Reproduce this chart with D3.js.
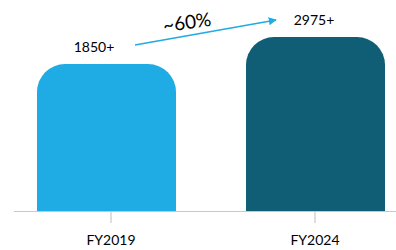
<!DOCTYPE html>
<html>
<head>
<meta charset="utf-8">
<script src="https://d3js.org/d3.v7.min.js"></script>
<style>
  body { margin:0; background:white; }
  .lbl { font-family: Lato, "Open Sans", sans-serif; font-size:14px; fill:#000; }
  .growth { font-family: Lato, "Open Sans", sans-serif; font-size:19px; fill:#000; }
</style>
</head>
<body>
<script>
var years = ["FY2019", "FY2024"];
var counts = [1850, 2975];
var labels = ["1850+", "2975+"];
var barColors = ["#1fabe3", "#0f5e75"];
var growthLabel = "~60%";

var width = 396, height = 250;
var svg = d3.select("body").append("svg")
  .attr("width", width).attr("height", height);

var x = d3.scaleBand().domain(years).range([37, 385]).paddingInner(0.335).paddingOuter(0);
// bars in the original are not drawn from zero
var y = d3.scaleLinear().domain([-4275, 2975]).range([211, 37]);

var r = 28;
function barPath(d, i) {
  var x0 = x(years[i]), w = x.bandwidth(), y0 = y(d), y1 = y(-4275);
  return "M" + x0 + "," + y1 + "V" + (y0 + r) +
    "A" + r + "," + r + " 0 0 1 " + (x0 + r) + "," + y0 +
    "H" + (x0 + w - r) +
    "A" + r + "," + r + " 0 0 1 " + (x0 + w) + "," + (y0 + r) +
    "V" + y1 + "Z";
}

svg.selectAll(".bar").data(counts).enter().append("path")
  .attr("class", "bar")
  .attr("d", barPath)
  .attr("fill", function(d, i) { return barColors[i]; });

// axis
svg.append("line").attr("x1", 14).attr("x2", 396).attr("y1", 211.5).attr("y2", 211.5)
  .attr("stroke", "#c8c8c8").attr("stroke-width", 1.2);
var ticks = [111, 315];
svg.selectAll(".tick").data(years).enter().append("line")
  .attr("x1", function(d, i) { return ticks[i]; })
  .attr("x2", function(d, i) { return ticks[i]; })
  .attr("y1", 212).attr("y2", 223)
  .attr("stroke", "#c8c8c8").attr("stroke-width", 1.2);
svg.selectAll(".xl").data(years).enter().append("text")
  .attr("class", "lbl")
  .attr("x", function(d, i) { return ticks[i]; })
  .attr("y", 245).attr("text-anchor", "middle")
  .text(function(d) { return d; });

// value labels
var lblX = [94, 314];
svg.selectAll(".vl").data(counts).enter().append("text")
  .attr("class", "lbl")
  .attr("x", function(d, i) { return lblX[i]; })
  .attr("y", function(d) { return y(d) - 12; })
  .attr("text-anchor", "middle")
  .text(function(d, i) { return labels[i]; });

// growth arrow
svg.append("defs").append("marker")
  .attr("id", "ah").attr("viewBox", "0 0 10 10")
  .attr("refX", 9).attr("refY", 5)
  .attr("markerWidth", 5).attr("markerHeight", 5)
  .attr("orient", "auto")
  .append("path").attr("d", "M0,0L10,5L0,10Z").attr("fill", "#1fabe3");
svg.append("line")
  .attr("x1", 135).attr("y1", 45).attr("x2", 276).attr("y2", 20)
  .attr("stroke", "#1fabe3").attr("stroke-width", 1.6)
  .attr("marker-end", "url(#ah)");
svg.append("text").attr("class", "growth")
  .attr("transform", "translate(188,29) rotate(-8)")
  .attr("text-anchor", "middle")
  .text(growthLabel);
</script>
</body>
</html>
